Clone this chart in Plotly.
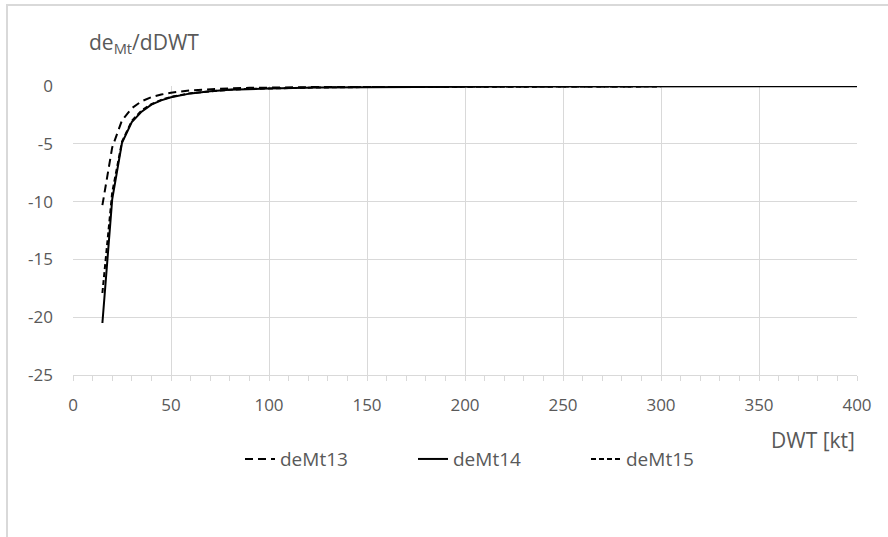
import plotly.graph_objects as go

dwt_13 = [15, 20, 25, 30, 35, 40, 45, 50, 60, 70, 80, 90, 100, 125, 150, 175, 200, 250, 300]
demt13 = [-10.3, -5.3, -2.95, -1.9, -1.3, -0.95, -0.72, -0.56, -0.36, -0.25, -0.18, -0.14, -0.11, -0.07, -0.045, -0.032, -0.024, -0.015, -0.01]

dwt_14 = [15, 20, 25, 30, 35, 40, 45, 50, 60, 70, 80, 90, 100, 125, 150, 175, 200, 250, 300, 350, 400]
demt14 = [-20.5, -9.8, -4.9, -3.1, -2.2, -1.6, -1.22, -0.95, -0.62, -0.43, -0.31, -0.24, -0.19, -0.11, -0.07, -0.05, -0.035, -0.02, -0.012, -0.008, -0.005]

dwt_15 = [15, 20, 25, 30, 35, 40, 45, 50, 60, 70, 80, 90, 100, 125, 150, 175, 200, 250, 300]
demt15 = [-17.9, -9.2, -4.8, -3.0, -2.1, -1.55, -1.18, -0.92, -0.6, -0.42, -0.3, -0.23, -0.18, -0.11, -0.07, -0.05, -0.034, -0.02, -0.012]

y_ticks = [0, -5, -10, -15, -20, -25]
y_tick_labels = ["0", "-5", "-10", "-15", "-20", "-25"]
x_ticks = [0, 50, 100, 150, 200, 250, 300, 350, 400]

FONT = "Open Sans"
TXT = "#595959"
GRID = "#d9d9d9"

fig = go.Figure()
fig.add_trace(go.Scatter(x=dwt_13, y=demt13, mode="lines", name="deMt13",
                         line=dict(color="black", width=2, dash="8px,5px")))
fig.add_trace(go.Scatter(x=dwt_14, y=demt14, mode="lines", name="deMt14",
                         line=dict(color="black", width=2)))
fig.add_trace(go.Scatter(x=dwt_15, y=demt15, mode="lines", name="deMt15",
                         line=dict(color="black", width=2, dash="5px,3px")))

fig.update_layout(
    width=888, height=537,
    margin=dict(l=73, r=31, t=86, b=162),
    paper_bgcolor="white", plot_bgcolor="white",
    font=dict(family=FONT, size=17, color=TXT),
    showlegend=True,
    legend=dict(orientation="h", x=(240 - 73) / 784, xanchor="left", y=-0.291, yanchor="middle",
                font=dict(family=FONT, size=19, color=TXT),
                entrywidth=128, entrywidthmode="pixels",
                bgcolor="rgba(0,0,0,0)"),
    xaxis=dict(range=[0, 400], tickvals=x_ticks, showgrid=True, gridcolor=GRID, gridwidth=1,
               zeroline=False, showline=True, linecolor=GRID, linewidth=1,
               ticks="outside", ticklen=5, tickcolor=GRID,
               minor=dict(ticks="outside", dtick=10, ticklen=5, tickcolor=GRID, showgrid=False),
               tickfont=dict(family=FONT, size=17, color=TXT), ticklabelstandoff=10),
    yaxis=dict(range=[-25, 0.02], tickvals=y_ticks, ticktext=y_tick_labels, showgrid=True,
               gridcolor=GRID, gridwidth=1, zeroline=False, showline=False,
               ticks="", tickfont=dict(family=FONT, size=17, color=TXT), ticklabelstandoff=19),
    shapes=[dict(type="rect", xref="paper", yref="paper", x0=-0.0842, x1=1.5, y0=-1.0, y1=1.28,
                 line=dict(color=GRID, width=2), fillcolor="rgba(0,0,0,0)", layer="below")],
    annotations=[
        dict(text="de<sub>Mt</sub>/dDWT", xref="paper", yref="paper", x=(87 - 73) / 784, y=1.149,
             xanchor="left", yanchor="middle", showarrow=False,
             font=dict(family=FONT, size=21, color=TXT)),
        dict(text="DWT [kt]", xref="paper", yref="paper", x=1.0, y=-0.225,
             xanchor="right", yanchor="middle", showarrow=False,
             font=dict(family=FONT, size=21, color=TXT)),
    ],
)

fig.write_html("out.html")
